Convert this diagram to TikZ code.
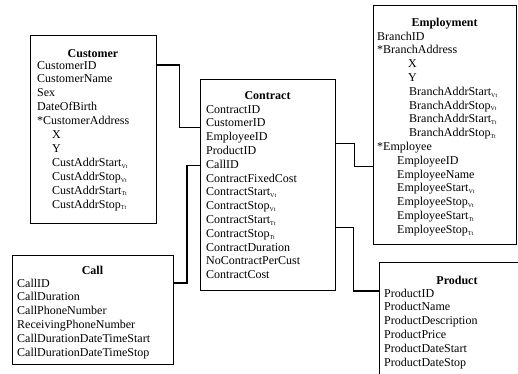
\documentclass[tikz,border=0pt]{standalone}
\usepackage{fontspec}
\setmainfont{Liberation Serif}
\usetikzlibrary{calc}
\newcommand{\sVt}{\textsubscript{\fontsize{6}{6}\selectfont Vt}}
\newcommand{\sTt}{\textsubscript{\fontsize{6}{6}\selectfont Tt}}
\begin{document}
\begin{tikzpicture}[x=1pt,y=-1pt,
  ent/.style={draw, line width=1.4pt, anchor=north west, inner sep=0pt},
  ttl/.style={font=\fontsize{12}{14}\selectfont\bfseries, inner sep=0pt, text height=8pt, text depth=0pt, anchor=center},
  row/.style={font=\fontsize{12}{14}\selectfont, inner sep=0pt, text height=8pt, text depth=0pt, anchor=west},
  link/.style={line width=1.2pt}]
\useasboundingbox (0,0) rectangle (518,373);
\clip (0,0) rectangle (518,373);
\fill[white] (0,0) rectangle (518,373);

% boxes
\node[ent, minimum width=126pt, minimum height=188pt] (customer) at (30,35) {};
\node[ent, minimum width=135pt, minimum height=211pt] (contract) at (200,79) {};
\node[ent, minimum width=143pt, minimum height=239pt] (employment) at (373,5) {};
\node[ent, minimum width=156pt, minimum height=130pt] (product) at (379,262) {};
\node[ent, minimum width=161pt, minimum height=109pt] (call) at (12,255) {};

% titles
\node[ttl] (customer-t) at (93,53) {Customer};
\node[ttl] (contract-t) at (267.5,95) {Contract};
\node[ttl] (employment-t) at (444.5,22) {Employment};
\node[ttl] (product-t) at (457,280) {Product};
\node[ttl] (call-t) at (92.5,270) {Call};

% Customer rows
\foreach \dx/\t [count=\i] in {0/CustomerID, 0/CustomerName, 0/Sex, 0/DateOfBirth, 0/*CustomerAddress, 15/X, 15/Y, 15/CustAddrStart\sVt, 15/CustAddrStop\sVt, 15/CustAddrStart\sTt, 15/CustAddrStop\sTt}
  \node[row] (cu\i) at ({37+\dx},{65+13.9*(\i-1)}) {\t};

% Contract rows
\foreach \t [count=\i] in {ContractID, CustomerID, EmployeeID, ProductID, CallID, ContractFixedCost, ContractStart\sVt, ContractStop\sVt, ContractStart\sTt, ContractStop\sTt, ContractDuration, NoContractPerCust, ContractCost}
  \node[row] (co\i) at (206,{109+13.8*(\i-1)}) {\t};

% Employment rows
\foreach \dx/\t [count=\i] in {0/BranchID, 0/*BranchAddress, 31/X, 31/Y, 32/BranchAddrStart\sVt, 32/BranchAddrStop\sVt, 32/BranchAddrStart\sTt, 32/BranchAddrStop\sTt, 0/*Employee, 20/EmployeeID, 20/EmployeeName, 20/EmployeeStart\sVt, 20/EmployeeStop\sVt, 20/EmployeeStart\sTt, 20/EmployeeStop\sTt}
  \node[row] (em\i) at ({377+\dx},{36+13.8*(\i-1)}) {\t};

% Product rows
\foreach \t [count=\i] in {ProductID, ProductName, ProductDescription, ProductPrice, ProductDateStart, ProductDateStop}
  \node[row] (pr\i) at (384,{293+13.8*(\i-1)}) {\t};

% Call rows
\foreach \t [count=\i] in {CallID, CallDuration, CallPhoneNumber, ReceivingPhoneNumber, CallDurationDateTimeStart, CallDurationDateTimeStop}
  \node[row] (ca\i) at (17,{283+13.8*(\i-1)}) {\t};

% connectors
\draw[link] (cu1.east -| customer.east) -- ++(22,0) |- ($(co2.west -| contract.west)+(0,5)$);
\draw[link] ($(co3.east -| contract.east)+(0,7)$) -- ++(18,0) |- ($(em10.west -| employment.west)+(0,6)$);
\draw[link] ($(co5.west -| contract.west)+(0,1)$) -- ++(-13,0) |- (ca1.east -| call.east);
\draw[link] ($(co10.east -| contract.east)+(0,-6)$) -- ++(17,0) |- ($(pr1.west -| product.west)+(0,-2)$);
\end{tikzpicture}
\end{document}
